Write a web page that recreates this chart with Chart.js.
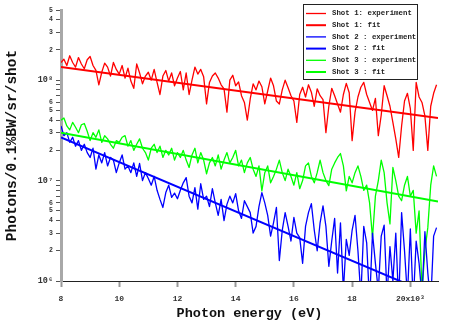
<!DOCTYPE html>
<html>
<head>
<meta charset="utf-8">
<script src="https://cdn.jsdelivr.net/npm/chart.js@4.4.1/dist/chart.umd.min.js"></script>
<style>
  html, body { margin: 0; padding: 0; background: #fff; }
  #wrap { width: 463px; height: 324px; position: relative; }
</style>
</head>
<body>
<div id="wrap"><canvas id="chart"></canvas></div>
<script>
// photon energy, keV (axis shows x10^3 eV)
const energy = [
  8.0, 8.1, 8.2, 8.3, 8.4, 8.5, 8.6, 8.7, 8.8, 8.9,
  9.0, 9.1, 9.2, 9.3, 9.4, 9.5, 9.6, 9.7, 9.8, 9.9,
  10.0, 10.1, 10.2, 10.3, 10.4, 10.5, 10.6, 10.7, 10.8, 10.9,
  11.0, 11.1, 11.2, 11.3, 11.4, 11.5, 11.6, 11.7, 11.8, 11.9,
  12.0, 12.1, 12.2, 12.3, 12.4, 12.5, 12.6, 12.7, 12.8, 12.9,
  13.0, 13.1, 13.2, 13.3, 13.4, 13.5, 13.6, 13.7, 13.8, 13.9,
  14.0, 14.1, 14.2, 14.3, 14.4, 14.5, 14.6, 14.7, 14.8, 14.9,
  15.0, 15.1, 15.2, 15.3, 15.4, 15.5, 15.6, 15.7, 15.8, 15.9,
  16.0, 16.1, 16.2, 16.3, 16.4, 16.5, 16.6, 16.7, 16.8, 16.9,
  17.0, 17.1, 17.2, 17.3, 17.4, 17.5, 17.6, 17.7, 17.8, 17.9,
  18.0, 18.1, 18.2, 18.3, 18.4, 18.5, 18.6, 18.7, 18.8, 18.9,
  19.0, 19.1, 19.2, 19.3, 19.4, 19.5, 19.6, 19.7, 19.8, 19.9,
  20.0, 20.1, 20.2, 20.3, 20.4, 20.5, 20.6, 20.7, 20.8, 20.9
]

// measured spectra, in units of 10^6 photons/0.1%BW/sr/shot
const shot1Exp = [
  150, 162, 140, 175, 150, 135, 168, 145, 130, 160,
  172, 140, 125, 90, 120, 148, 135, 110, 150, 128,
  115, 140, 105, 132, 98, 83, 145, 118, 92, 110,
  120, 100, 128, 95, 72, 110, 125, 98, 118, 88,
  105, 122, 80, 118, 72, 100, 135, 115, 128, 108,
  58, 95, 110, 118, 105, 90, 82, 48, 100, 112,
  88, 96, 70, 60, 40, 65, 92, 80, 98, 86,
  58, 78, 105, 88, 62, 58, 80, 100, 84, 70,
  62, 38, 72, 85, 68, 90, 76, 55, 82, 70,
  64, 30, 55, 83, 70, 58, 48, 72, 93, 75,
  25, 48, 68, 85, 95, 72, 60, 50, 66, 28,
  45, 88, 70, 55, 38, 26, 17, 35, 62, 74,
  52, 20, 95, 68, 60, 44, 20, 55, 74, 90
]
const shot2Exp = [
  35, 28, 30, 24, 27, 22, 25, 20, 23, 19,
  17, 21, 13, 18, 15, 19, 14, 17, 16, 12,
  15, 18, 13, 14, 12, 15, 11, 14.8, 10, 12,
  10.5, 9, 11, 8, 6.5, 5.4, 7.6, 9, 6.8, 7.5,
  6.6, 8, 9.5, 10.7, 7, 6, 8.5, 5.2, 9.3, 6.5,
  7, 5.5, 8.3, 6, 4.5, 6.5, 4, 5.8, 7, 6,
  7.4, 5, 4.2, 6.3, 5.5, 4.8, 3, 3.5, 5.5, 7.6,
  6, 4.5, 2.8, 3.8, 5.4, 1.6, 3.2, 4.8, 3.5, 2.5,
  4.3, 3, 2.7, 1.5, 3.5, 4.8, 5.9, 3.2, 2, 3.8,
  5.6, 3.5, 1.4, 2.5, 4.2, 1.2, 3.8, 0.8, 2.6, 1.8,
  3.2, 4.5, 2, 0.7, 3.5, 2.4, 0.6, 3, 1.5, 0.8,
  2.8, 3.6, 0.7, 2.2, 1, 3, 0.6, 4.8, 2, 0.7,
  3.3, 0.6, 2.5, 1.5, 0.7, 3.1, 1.2, 0.6, 2.8, 3.4
]
const shot3Exp = [
  40, 42, 35, 32, 38, 34, 30, 36, 37, 31,
  25, 30, 27, 32, 24, 28, 26, 23, 21, 25,
  24, 27, 28, 22, 25, 20, 23, 26, 21, 19,
  16, 21, 23, 19, 22, 17, 20, 18, 21, 16,
  19, 17, 20, 16, 13.5, 18, 21, 15, 19, 16,
  11.7, 15, 17, 14, 18, 13, 16, 19, 15, 17,
  20, 14, 16, 12, 15, 17, 13, 11, 14, 7.9,
  12, 14, 9.5, 11, 13, 16, 12, 10, 13, 11,
  9, 12, 8.3, 10, 14, 15, 11, 9.5, 12, 16,
  12, 10, 8.9, 13, 15, 17, 18.6, 14, 7.9, 11,
  9.5, 12, 14, 11, 8, 9, 6, 2.7, 7, 10,
  16, 12, 6, 3.7, 13.5, 10, 7, 6.3, 9, 11,
  7, 8, 3, 5, 0.8, 2, 3.4, 9, 14, 11
]

// exponential fits (straight on log axis), end points
const fitEnergy = [8, 20.95]
const shot1Fit = [135, 42]
const shot2Fit = [26.9, 0.69]
const shot3Fit = [30, 6.2]

const UNIT = 1e6
const xTicks = [8, 10, 12, 14, 16, 18, 20]
const yDecades = [6, 7, 8]
const yLabelledMinor = [2, 3, 4, 5, 6]
const supers = { 6: '\u2076', 7: '\u2077', 8: '\u2078' }

const toPoints = (xs, ys) => xs.map((x, i) => ({ x: x, y: ys[i] * UNIT }))

const mono = 'Liberation Mono, DejaVu Sans Mono, monospace'

const boxLegend = {
  id: 'boxLegend',
  afterDraw(chart) {
    const ctx = chart.ctx
    const x0 = 303, y0 = 4, w = 114, h = 75
    ctx.save()
    ctx.fillStyle = '#fff'
    ctx.fillRect(x0, y0, w, h)
    ctx.strokeStyle = '#222'
    ctx.lineWidth = 1
    ctx.strokeRect(x0 + 0.5, y0 + 0.5, w, h)
    ctx.font = 'bold 7.4px ' + mono
    ctx.textBaseline = 'middle'
    chart.data.datasets.forEach((ds, i) => {
      const y = 13.5 + i * 11.7
      ctx.strokeStyle = ds.borderColor
      ctx.lineWidth = ds.borderWidth
      ctx.beginPath()
      ctx.moveTo(306, y)
      ctx.lineTo(326, y)
      ctx.stroke()
      ctx.fillStyle = '#222'
      ctx.fillText(ds.label, 332, y)
    })
    ctx.restore()
  }
}

const expStyle = (color) => ({ borderColor: color, borderWidth: 1.3, pointRadius: 0, tension: 0, borderJoinStyle: 'round', order: 1 })
const fitStyle = (color) => ({ borderColor: color, borderWidth: 2, pointRadius: 0, tension: 0, order: 0 })

new Chart(document.getElementById('chart'), {
  type: 'line',
  data: {
    datasets: [
      { label: 'Shot 1: experiment', data: toPoints(energy, shot1Exp), ...expStyle('#ff0000') },
      { label: 'Shot 1: fit', data: toPoints(fitEnergy, shot1Fit), ...fitStyle('#ff0000') },
      { label: 'Shot 2 : experiment', data: toPoints(energy, shot2Exp), ...expStyle('#0000ff') },
      { label: 'Shot 2 : fit', data: toPoints(fitEnergy, shot2Fit), ...fitStyle('#0000ff') },
      { label: 'Shot 3 : experiment', data: toPoints(energy, shot3Exp), ...expStyle('#00ff00') },
      { label: 'Shot 3 : fit', data: toPoints(fitEnergy, shot3Fit), ...fitStyle('#00ff00') }
    ]
  },
  options: {
    responsive: true,
    maintainAspectRatio: false,
    animation: false,
    layout: { padding: { top: 10, right: 25, left: 0, bottom: 0 } },
    plugins: { legend: { display: false }, tooltip: { enabled: false } },
    scales: {
      x: {
        type: 'linear',
        min: 8,
        max: 20.95,
        border: { color: '#222', width: 1 },
        grid: { drawOnChartArea: false, tickLength: 6, tickColor: '#999', tickWidth: 2 },
        afterBuildTicks: (s) => { s.ticks = xTicks.map(v => ({ value: v })) },
        afterFit: (s) => { s.height = 43 },
        ticks: {
          autoSkip: false,
          maxRotation: 0,
          padding: 7,
          color: '#333',
          font: { family: mono, weight: 'bold', size: 8 },
          callback: (v) => v === 20 ? '20x10\u00b3' : String(v)
        },
        title: {
          display: true,
          text: 'Photon energy (eV)',
          color: '#111',
          font: { family: mono, weight: 'bold', size: 13.5 },
          padding: { top: 0, bottom: 2 }
        }
      },
      y: {
        type: 'logarithmic',
        min: 1e6,
        max: 5e8,
        border: { color: '#a8a8a8', width: 3 },
        grid: { drawOnChartArea: false, tickLength: 5, tickColor: '#555', tickWidth: 1 },
        afterBuildTicks: (s) => {
          const t = []
          yDecades.forEach(e => {
            for (let m = 1; m <= 9; m++) {
              const v = m * Math.pow(10, e)
              if (v <= 5e8 * 1.0001) t.push({ value: v })
            }
          })
          s.ticks = t
        },
        afterFit: (s) => { s.width = 61 },
        ticks: {
          autoSkip: false,
          padding: 3,
          color: '#333',
          font: (c) => {
            const v = c.tick ? c.tick.value : 1
            const e = Math.round(Math.log10(v))
            const decade = Math.abs(v - Math.pow(10, e)) < 1e-3 * v
            return { family: mono, weight: 'bold', size: decade ? 8.5 : 6.5 }
          },
          callback: (v) => {
            const e = Math.floor(Math.log10(v) + 1e-9)
            const m = Math.round(v / Math.pow(10, e))
            if (m === 1) return '10' + supers[e]
            return yLabelledMinor.includes(m) ? String(m) : ''
          }
        },
        title: {
          display: true,
          text: 'Photons/0.1%BW/sr/shot',
          color: '#111',
          font: { family: mono, weight: 'bold', size: 14.5 },
          padding: { top: 4, bottom: 0 }
        }
      }
    }
  },
  plugins: [boxLegend]
})
</script>
</body>
</html>
